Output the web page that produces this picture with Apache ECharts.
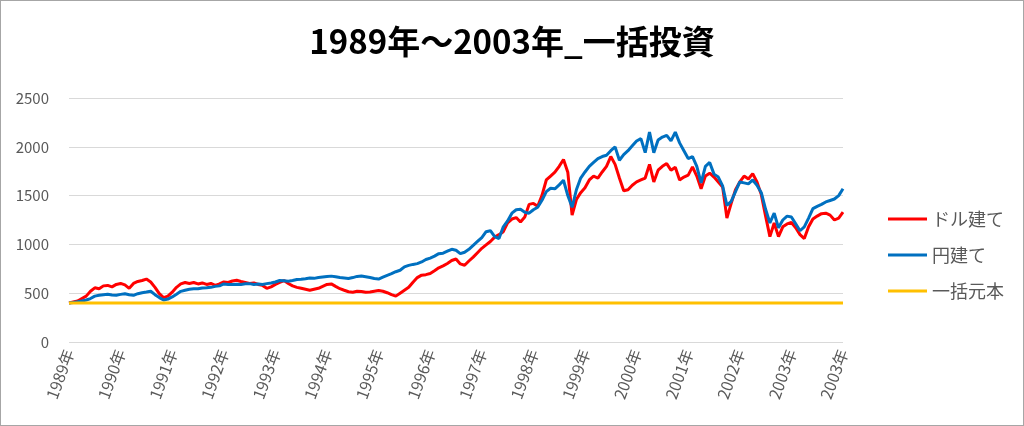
<!DOCTYPE html>
<html>
<head>
<meta charset="utf-8">
<script src="https://cdn.jsdelivr.net/npm/echarts@6/dist/echarts.min.js"></script>
<style>
html,body{margin:0;padding:0;background:#fff;}
#frame{width:1024px;height:426px;box-sizing:border-box;border:1px solid #a6a6a6;position:relative;}
#chart{position:absolute;left:-1px;top:-1px;width:1024px;height:426px;}
</style>
</head>
<body>
<div id="frame"><div id="chart"></div></div>
<script>
// Tick labels along the x axis (one every 12 points)
const tickLabels = ['1989年','1990年','1991年','1992年','1993年','1994年','1995年','1996年','1997年','1998年','1999年','2000年','2001年','2002年','2003年','2003年'];
const pointsPerTick = 12;

// ドル建て (dollar-denominated)
const dollarValues = [
400,410,420,445,470,520,555,545,575,580,565,590,
600,585,550,600,620,630,645,615,560,495,455,470,
510,560,595,610,600,610,595,605,590,600,580,595,
615,610,625,632,620,610,600,605,590,580,550,565,
590,610,630,600,575,560,550,540,530,540,550,570,
590,595,570,546,530,515,510,520,518,510,512,520,
528,520,505,485,470,500,530,560,612,660,685,690,
702,730,760,780,805,835,850,800,786,830,870,915,
960,995,1030,1075,1100,1130,1220,1260,1275,1230,1280,1410,
1420,1390,1503,1660,1700,1740,1800,1870,1740,1300,1460,1530,
1580,1660,1700,1680,1742,1800,1900,1820,1680,1550,1560,1606,
1640,1660,1680,1820,1640,1760,1800,1828,1760,1790,1660,1690,
1710,1794,1700,1570,1700,1730,1690,1640,1589,1270,1420,1560,
1640,1700,1670,1725,1640,1510,1290,1080,1220,1080,1180,1210,
1225,1170,1100,1060,1180,1260,1290,1315,1320,1300,1250,1270,
1330
];

// 円建て (yen-denominated)
const yenValues = [
400,405,412,420,430,445,470,478,485,490,482,480,
488,495,485,478,495,505,512,520,485,455,430,440,
462,490,519,530,540,546,545,553,556,560,570,575,
595,590,588,592,590,596,598,590,595,590,598,605,
615,630,628,622,630,640,642,648,656,652,660,665,
670,675,668,660,655,650,660,672,676,668,660,650,
645,665,683,700,720,735,770,785,795,803,820,845,
860,880,905,910,930,950,940,905,920,950,990,1030,
1070,1130,1140,1080,1060,1180,1240,1320,1355,1360,1330,1320,
1355,1380,1452,1540,1575,1570,1610,1657,1500,1380,1560,1680,
1742,1800,1840,1879,1900,1913,1960,1999,1862,1920,1960,2010,
2060,2084,1940,2150,1940,2070,2100,2118,2060,2150,2040,1960,
1880,1900,1800,1630,1800,1840,1720,1690,1600,1400,1440,1540,
1640,1630,1620,1660,1606,1530,1360,1220,1320,1170,1250,1290,
1280,1210,1140,1180,1270,1366,1390,1410,1435,1450,1465,1500,
1571
];

// 一括元本 (lump-sum principal)
const principalValue = 400;

const categories = dollarValues.map((_, i) => String(i));
const principalValues = dollarValues.map(() => principalValue);

const FONT = '"Noto Sans CJK JP", "Noto Sans", sans-serif';
const chart = echarts.init(document.getElementById('chart'), null, {renderer: 'canvas'});
chart.setOption({
  animation: false,
  backgroundColor: 'transparent',
  title: {
    text: '1989年～2003年_一括投資',
    left: 'center',
    top: 20,
    textStyle: {fontFamily: FONT, fontSize: 33, fontWeight: 'bold', color: '#000'}
  },
  legend: {
    orient: 'vertical',
    left: 883,
    top: 205,
    itemWidth: 39,
    itemHeight: 3,
    itemGap: 18,
    icon: 'rect',
    textStyle: {fontFamily: FONT, fontSize: 18, color: '#595959'},
    data: ['ドル建て', '円建て', '一括元本']
  },
  grid: {left: 69, right: 181, top: 98, bottom: 84, containLabel: false},
  xAxis: {
    type: 'category',
    data: categories,
    boundaryGap: false,
    axisLine: {show: false},
    axisTick: {show: false},
    splitLine: {show: false},
    axisLabel: {
      interval: pointsPerTick - 1,
      rotate: 70,
      margin: 8,
      fontFamily: FONT,
      fontSize: 16,
      color: '#595959',
      formatter: function (v, idx) {
        return idx % pointsPerTick === 0 ? tickLabels[idx / pointsPerTick] : '';
      }
    }
  },
  yAxis: {
    type: 'value',
    min: 0,
    max: 2500,
    interval: 500,
    axisLine: {show: false},
    axisTick: {show: false},
    splitLine: {lineStyle: {color: '#d9d9d9', width: 1}},
    axisLabel: {fontFamily: FONT, fontSize: 15, color: '#595959', margin: 20,
      formatter: function (v) { return String(v); }}
  },
  series: [
    {name: 'ドル建て', type: 'line', data: dollarValues, showSymbol: false, color: '#ff0000', lineStyle: {width: 3, color: '#ff0000'}},
    {name: '円建て', type: 'line', data: yenValues, showSymbol: false, color: '#0070c0', lineStyle: {width: 3, color: '#0070c0'}},
    {name: '一括元本', type: 'line', data: principalValues, showSymbol: false, color: '#ffc000', lineStyle: {width: 3, color: '#ffc000'}}
  ]
});
</script>
</body>
</html>
